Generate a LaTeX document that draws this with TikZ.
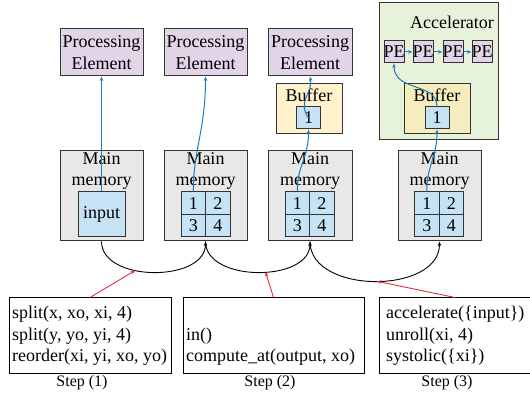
\documentclass[tikz,border=0pt]{standalone}
\usepackage{fontspec}
\setmainfont{Liberation Serif}
\usetikzlibrary{arrows.meta}
\definecolor{peFill}{HTML}{E1D5E7}
\definecolor{memFill}{HTML}{E8E8E8}
\definecolor{cellFill}{HTML}{C5E3F4}
\definecolor{bufFill}{HTML}{FFF2CC}
\definecolor{bufFillAcc}{HTML}{F6EDBE}
\definecolor{accFill}{HTML}{E6F2DA}
\definecolor{flowBlue}{HTML}{1B7CC0}
\definecolor{stepRed}{HTML}{E0303F}
\definecolor{edgeGray}{HTML}{333333}

\begin{document}
\begin{tikzpicture}[x=1pt,y=-1pt,
  base/.style={font=\fontsize{18}{21.5}\selectfont},
  box/.style={base,draw=edgeGray,line width=1pt,inner sep=1pt,align=center},
  pebox/.style={box,fill=peFill,minimum width=83pt,minimum height=47pt},
  minipe/.style={box,fill=peFill,minimum width=20pt,minimum height=22pt,inner sep=0pt},
  membox/.style={box,fill=memFill,minimum width=83pt,minimum height=90pt},
  memtext/.style={base,align=center,inner sep=0pt},
  cell/.style={box,fill=cellFill,minimum width=24.5pt,minimum height=22.5pt,inner sep=0pt},
  bufbox/.style={box,minimum width=66pt,minimum height=50pt},
  onecell/.style={box,fill=cellFill,minimum width=24.5pt,minimum height=22pt,inner sep=0pt},
  stepbox/.style={draw=black,line width=1pt,minimum height=75pt},
  steptext/.style={base,align=left,anchor=west,inner sep=0pt},
  steplabel/.style={font=\fontsize{16}{19}\selectfont,inner sep=0pt},
  flow/.style={draw=flowBlue,line width=1pt,-{Stealth[length=4.5pt,width=3.5pt]}},
  memflow/.style={draw=black,line width=0.9pt,-{Stealth[length=4.5pt,width=3.5pt]}},
  stepflow/.style={draw=stepRed,line width=0.9pt,-{Stealth[length=4.5pt,width=3.5pt]}}
]
\useasboundingbox (0,0) rectangle (530,395);

% processing elements
\node[pebox] (pe1) at (101.5,52.5) {Processing\\Element};
\node[pebox] (pe2) at (205.5,52.5) {Processing\\Element};
\node[pebox,minimum width=84pt] (pe3) at (310,52.5) {Processing\\Element};

% on-chip buffer of step 2
\node[bufbox,fill=bufFill] (buf2) at (309,109) {};
\node[base,inner sep=0pt] (buf2t) at (309,95) {Buffer};
\node[onecell] (b2one) at (308.5,118) {1};

% accelerator with systolic PE array
\node[box,fill=accFill,minimum width=119pt,minimum height=137pt] (acc) at (438.5,71.5) {};
\node[base,inner sep=0pt] (acct) at (452,22) {Accelerator};
\node[minipe] (spe1) at (394,52) {\makebox[0pt]{PE}};
\node[minipe] (spe2) at (423,52) {\makebox[0pt]{PE}};
\node[minipe] (spe3) at (453,52) {\makebox[0pt]{PE}};
\node[minipe] (spe4) at (482,52) {\makebox[0pt]{PE}};
\node[bufbox,fill=bufFillAcc] (buf3) at (437,109) {};
\node[base,inner sep=0pt] (buf3t) at (437,95) {Buffer};
\node[onecell,minimum width=24pt] (b3one) at (437,118) {1};

% main memories
\node[membox] (mm1) at (101.5,196) {};
\node[membox] (mm2) at (205.5,196) {};
\node[membox,minimum width=84pt] (mm3) at (310,196) {};
\node[membox] (mm4) at (439.5,196) {};
\node[memtext] (mm1t) at (101.5,171) {Main\\memory};
\node[memtext] (mm2t) at (205.5,171) {Main\\memory};
\node[memtext] (mm3t) at (310,171) {Main\\memory};
\node[memtext] (mm4t) at (439.5,171) {Main\\memory};

\node[box,fill=cellFill,minimum width=47pt,minimum height=45pt] (inp) at (101.5,214.5) {input};

\node[cell] (g2a) at (193.25,203.25) {1};
\node[cell] (g2b) at (217.75,203.25) {2};
\node[cell] (g2c) at (193.25,225.75) {3};
\node[cell] (g2d) at (217.75,225.75) {4};

\node[cell] (g3a) at (297.25,203.25) {1};
\node[cell] (g3b) at (321.75,203.25) {2};
\node[cell] (g3c) at (297.25,225.75) {3};
\node[cell] (g3d) at (321.75,225.75) {4};

\node[cell] (g4a) at (426.75,203.25) {1};
\node[cell] (g4b) at (451.25,203.25) {2};
\node[cell] (g4c) at (426.75,225.75) {3};
\node[cell] (g4d) at (451.25,225.75) {4};

% schedule primitives
\node[stepbox,minimum width=162pt] (s1) at (90,335.5) {};
\node[stepbox,minimum width=181pt] (s2) at (273.5,335.5) {};
\node[stepbox,minimum width=152pt] (s3) at (455,335.5) {};
\node[steptext] (s1t) at (12,336) {split(x, xo, xi, 4)\\split(y, yo, yi, 4)\\reorder(xi, yi, xo, yo)};
\node[steptext] (s2t) at (186,346.5) {in()\\compute\_at(output, xo)};
\node[steptext] (s3t) at (386,336) {accelerate(\{input\})\\unroll(xi, 4)\\systolic(\{xi\})};
\node[steplabel] (l1) at (82,383) {Step (1)};
\node[steplabel] (l2) at (270,383) {Step (2)};
\node[steplabel] (l3) at (447,383) {Step (3)};

% data movement
\draw[flow] (inp.north) -- (pe1.south);
\draw[flow] (g2a.north) .. controls (193.25,150) and (205.5,130) .. (pe2.south);
\draw[flow] (g3a.north) .. controls (297.25,165) and (308.5,158) .. (b2one.south);
\draw[flow] (b2one.center) .. controls (297,102) and (313,92) .. (pe3.south);
\draw[flow] (g4a.north) .. controls (426.75,165) and (437,158) .. (b3one.south);
\draw[flow] (b3one.north) .. controls (437,82) and (394,92) .. (spe1.south);
\draw[flow] (spe1.east) -- (spe2.west);
\draw[flow] (spe2.east) -- (spe3.west);
\draw[flow] (spe3.east) -- (spe4.west);

% transformation sequence
\draw[memflow] (mm1.south) .. controls +(0,41) and +(0,41) .. coordinate[pos=0.38] (k1) (mm2.south);
\draw[memflow] (mm2.south) .. controls +(0,41) and +(0,41) .. coordinate[pos=0.55] (k2) (mm3.south);
\draw[memflow] (mm3.south) .. controls +(0,53) and +(0,53) .. coordinate[pos=0.51] (k3) (mm4.south);

\draw[stepflow] (s1.north) -- (k1);
\draw[stepflow] (s2.north) -- (k2);
\draw[stepflow] (s3.north) -- (k3);
\end{tikzpicture}
\end{document}
